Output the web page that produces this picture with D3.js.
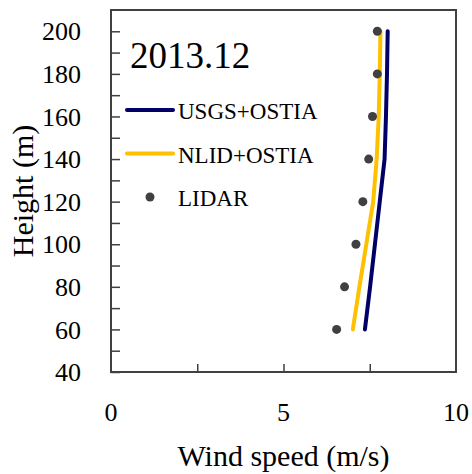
<!DOCTYPE html>
<html>
<head>
<meta charset="utf-8">
<script src="https://cdn.jsdelivr.net/npm/d3@7"></script>
<style>
  body { margin: 0; background: #fff; }
  svg text { font-family: "Liberation Serif", "Times New Roman", serif; fill: #000; }
</style>
</head>
<body>
<div id="chart"></div>
<script>
// heights of the profile (m)
var heights = [60, 80, 100, 120, 140, 160, 180, 200];

// wind speed (m/s) per source
var usgsOstia = [7.36, 7.51, 7.65, 7.79, 7.93, 7.97, 8.00, 8.02];
var nlidOstia = [7.01, 7.20, 7.40, 7.60, 7.70, 7.76, 7.79, 7.81];
var lidar     = [6.54, 6.77, 7.10, 7.30, 7.47, 7.58, 7.72, 7.72];

var yTicks = [40, 60, 80, 100, 120, 140, 160, 180, 200];
var yMinor = [50, 70, 90, 110, 130, 150, 170, 190];
var xTicks = [2.5, 5, 7.5];
var xLabels = [0, 5, 10];

var title = '2013.12';

var width = 472, height = 474;
var margin = { left: 111, right: 16, top: 10, bottom: 102 };

var svg = d3.select('#chart').append('svg')
    .attr('width', width)
    .attr('height', height);

var x = d3.scaleLinear().domain([0, 10]).range([margin.left, width - margin.right]);
var y = d3.scaleLinear().domain([40, 210]).range([height - margin.bottom, margin.top]);

var axisColor = '#404040';

// y ticks, inward
svg.append('g')
    .attr('transform', 'translate(' + margin.left + ',0)')
    .call(d3.axisRight(y).tickValues(yTicks.concat(yMinor)).tickSize(9).tickFormat(''))
    .call(function(g) { g.select('.domain').remove(); })
    .selectAll('line').attr('stroke', axisColor).attr('stroke-width', 1.5);

// y tick labels
svg.append('g').selectAll('text').data(yTicks)
    .enter().append('text')
    .attr('x', 81)
    .attr('y', function(d) { return y(d); })
    .attr('dy', '0.35em')
    .attr('text-anchor', 'end')
    .style('font-size', '26px')
    .text(function(d) { return d; });

// x ticks, inward
svg.append('g')
    .attr('transform', 'translate(0,' + y(40) + ')')
    .call(d3.axisTop(x).tickValues(xTicks).tickSize(8).tickFormat(''))
    .call(function(g) { g.select('.domain').remove(); })
    .selectAll('line').attr('stroke', axisColor).attr('stroke-width', 1.5);

// x tick labels, set well below the axis
svg.append('g').selectAll('text').data(xLabels)
    .enter().append('text')
    .attr('x', function(d) { return x(d); })
    .attr('y', 421)
    .attr('text-anchor', 'middle')
    .style('font-size', '26px')
    .text(function(d) { return d; });

// frame
svg.append('rect')
    .attr('x', x(0))
    .attr('y', y(210))
    .attr('width', x(10) - x(0))
    .attr('height', y(40) - y(210))
    .attr('fill', 'none')
    .attr('stroke', axisColor)
    .attr('stroke-width', 2);

// axis titles
svg.append('text')
    .attr('x', (x(0) + x(10)) / 2)
    .attr('y', 466)
    .attr('text-anchor', 'middle')
    .style('font-size', '30px')
    .text('Wind speed (m/s)');

svg.append('text')
    .attr('transform', 'translate(33,' + ((y(40) + y(210)) / 2) + ') rotate(-90)')
    .attr('text-anchor', 'middle')
    .style('font-size', '30px')
    .text('Height (m)');

// lines
var line = function(vals) {
    return d3.line()
        .x(function(d, i) { return x(vals[i]); })
        .y(function(d) { return y(d); })(heights);
};

var series = [
    { name: 'USGS+OSTIA', values: usgsOstia, color: '#000066' },
    { name: 'NLID+OSTIA', values: nlidOstia, color: '#FFC000' }
];

series.forEach(function(s) {
    svg.append('path')
        .attr('d', line(s.values))
        .attr('fill', 'none')
        .attr('stroke', s.color)
        .attr('stroke-width', 4)
        .attr('stroke-linecap', 'round')
        .attr('stroke-linejoin', 'round');
});

// LIDAR points
svg.append('g').selectAll('circle').data(heights)
    .enter().append('circle')
    .attr('cx', function(d, i) { return x(lidar[i]); })
    .attr('cy', function(d) { return y(d); })
    .attr('r', 4.5)
    .attr('fill', '#404040');

// title inside plot
svg.append('text')
    .attr('x', 130)
    .attr('y', 68)
    .style('font-size', '37px')
    .text(title);

// legend
var legend = svg.append('g');
series.forEach(function(s, i) {
    var ly = 110 + i * 43.5;
    legend.append('line')
        .attr('x1', 127).attr('x2', 173)
        .attr('y1', ly).attr('y2', ly)
        .attr('stroke', s.color)
        .attr('stroke-width', 4)
        .attr('stroke-linecap', 'round');
    legend.append('text')
        .attr('x', 178)
        .attr('y', ly + 9)
        .style('font-size', '23px')
        .text(s.name);
});
legend.append('circle')
    .attr('cx', 150).attr('cy', 197)
    .attr('r', 4.5)
    .attr('fill', '#404040');
legend.append('text')
    .attr('x', 178)
    .attr('y', 206)
    .style('font-size', '23px')
    .text('LIDAR');
</script>
</body>
</html>
